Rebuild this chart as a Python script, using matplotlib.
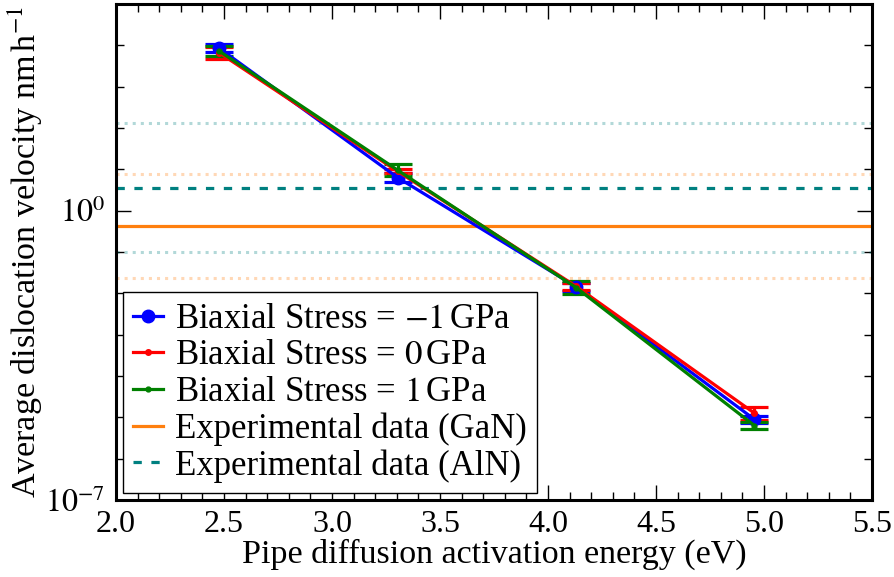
import numpy as np
import matplotlib
matplotlib.use('Agg')
import matplotlib.pyplot as plt
from matplotlib.ticker import FixedLocator, NullFormatter, MultipleLocator, FormatStrFormatter

plt.rcParams['font.family'] = ['Liberation Serif', 'DejaVu Serif']
plt.rcParams['mathtext.fontset'] = 'stix'

# ---- data ----
energy = [2.478, 3.304, 4.130, 4.956]
# log10 of velocity (nm/h)
logv_neg1 = [3.93, 0.80, -1.84, -5.05]
logv_0 = [3.82, 0.95, -1.83, -4.90]
logv_1 = [3.86, 0.98, -1.86, -5.20]
# error half-widths in decades
err_neg1 = [0.10, 0.10, 0.10, 0.08]
err_0 = [0.14, 0.05, 0.08, 0.16]
err_1 = [0.12, 0.15, 0.15, 0.08]

gan_log = [-0.37, -1.64, 0.89]   # mean, low, high
aln_log = [0.556, -1.01, 2.11]   # mean, low, high

labels = [r'Biaxial Stress = $-1\,$GPa', r'Biaxial Stress = $0\,$GPa',
          r'Biaxial Stress = $1\,$GPa', 'Experimental data (GaN)',
          'Experimental data (AlN)']

fig = plt.figure(figsize=(8.94, 5.77), dpi=100)
ax = fig.add_axes([116/894, 1-500/577, (872-116)/894, (500-4)/577])
ax.set_yscale('log')

def series(logv, err):
    y = 10**np.array(logv)
    e = 10**np.array(err)
    return y, [y - y/e, y*e - y]

handles = []
styles = [('blue', 'o', 9), ('red', '.', 8), ('green', '.', 7)]
for (lv, er, (c, m, ms), lab) in zip([logv_neg1, logv_0, logv_1],
                                      [err_neg1, err_0, err_1], styles, labels[:3]):
    y, yerr = series(lv, er)
    cont = ax.errorbar(energy, y, yerr=yerr, color=c, marker=m, ms=ms, lw=2.3,
                       capsize=10, capthick=2.3, elinewidth=2.3, label=lab)
    handles.append(cont[0])

handles.append(ax.axhline(10**gan_log[0], color='#ff7f0e', lw=2.3, label=labels[3]))
for v in gan_log[1:]:
    ax.axhline(10**v, color='#ff7f0e', lw=2.2, ls=':', alpha=0.3)
handles.append(ax.axhline(10**aln_log[0], color='teal', lw=2.3, dashes=(2.6, 3),
                          label=labels[4]))
for v in aln_log[1:]:
    ax.axhline(10**v, color='teal', lw=2.2, ls=':', alpha=0.3)

ax.set_xlim(2.0, 5.5)
ax.set_ylim(1e-7, 1e5)
ax.xaxis.set_major_locator(MultipleLocator(0.5))
ax.xaxis.set_minor_locator(MultipleLocator(0.1))
ax.xaxis.set_major_formatter(FormatStrFormatter('%.1f'))
ax.yaxis.set_major_locator(FixedLocator([1e-7, 1e0]))
ax.set_yticklabels([r'$10^{-7}$', r'$10^{0}$'])
ax.yaxis.set_minor_locator(FixedLocator([10.0**k for k in range(-6, 6) if k != 0]))
ax.yaxis.set_minor_formatter(NullFormatter())

ax.tick_params(which='both', direction='in', top=True, right=True, width=1.0,
               labelsize=23)
ax.tick_params(which='major', length=11)
ax.tick_params(axis='x', which='major', pad=7)
ax.tick_params(axis='y', which='major', pad=8)
ax.tick_params(which='minor', length=5.5)
for s in ax.spines.values():
    s.set_linewidth(2.2)

ax.set_xlabel('Pipe diffusion activation energy (eV)', fontsize=24.5, labelpad=0)
ax.set_ylabel(r'Average dislocation velocity nm$\,$h$^{-1}$', fontsize=24.5, labelpad=0)

leg = ax.legend(handles=handles, labels=labels, loc='lower left', fontsize=25,
                frameon=True, fancybox=False, edgecolor='black', framealpha=1,
                borderaxespad=0.2, handlelength=0.85, handletextpad=0.35,
                labelspacing=0.1, borderpad=0.3)
leg.get_frame().set_linewidth(1.0)

fig.savefig('out.png', dpi=100)
